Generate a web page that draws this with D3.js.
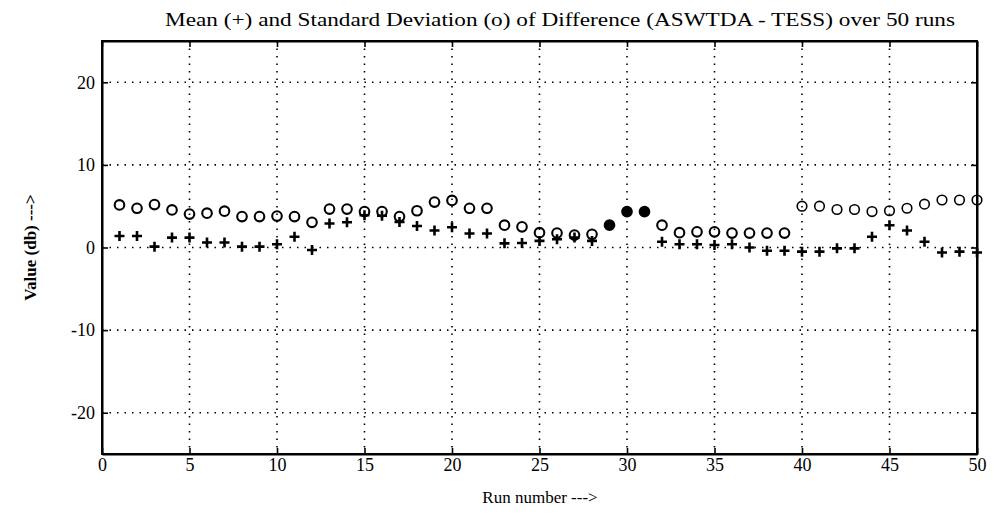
<!DOCTYPE html>
<html><head><meta charset="utf-8">
<script src="https://cdn.jsdelivr.net/npm/d3@7"></script>
<style>body{margin:0;background:#fff;} text{font-family:"Liberation Serif","Times New Roman",serif;fill:#000;}</style>
</head><body>
<svg id="chart" width="993" height="531"></svg>
<script>
const runs = d3.range(1, 51);
const meanValues = [1.4,1.4,0.1,1.2,1.2,0.6,0.6,0.1,0.1,0.4,1.3,-0.3,2.9,3.05,3.9,3.85,3.1,2.6,2.05,2.45,1.7,1.7,0.5,0.55,0.8,1.0,1.2,0.8,2.7,4.35,4.35,0.7,0.4,0.4,0.3,0.4,0.0,-0.4,-0.4,-0.5,-0.5,-0.1,-0.1,1.3,2.7,2.05,0.7,-0.6,-0.5,-0.6];
const stdValues = [5.15,4.75,5.2,4.55,4.05,4.15,4.4,3.75,3.75,3.8,3.75,3.05,4.65,4.65,4.35,4.35,3.75,4.45,5.5,5.7,4.75,4.75,2.7,2.5,1.8,1.75,1.5,1.6,2.7,4.35,4.35,2.7,1.8,1.9,1.9,1.75,1.75,1.75,1.75,5.0,5.0,4.6,4.6,4.35,4.45,4.75,5.25,5.75,5.75,5.75];
const xTicks = [0,5,10,15,20,25,30,35,40,45,50];
const yTicks = [-20,-10,0,10,20];
const title = "Mean (+) and Standard Deviation (o) of Difference (ASWTDA - TESS) over 50 runs";
const xLabel = "Run number --->";
const yLabel = "Value (db) --->";

const svg = d3.select("#chart");
const L = 102, R = 977, T = 41, B = 454;
const x = d3.scaleLinear().domain([0, 50]).range([L, R]);
const y = d3.scaleLinear().domain([-25, 25]).range([B, T]);
const fmt = d => String(d);

// grid
const g = svg.append("g");
g.selectAll(".vg").data(xTicks.filter(d => d > 0 && d < 50)).enter().append("line")
  .attr("x1", d => x(d)).attr("x2", d => x(d)).attr("y1", T).attr("y2", B)
  .attr("stroke", "#000").attr("stroke-width", 1.6).attr("stroke-dasharray", "1.5,6");
g.selectAll(".hg").data(yTicks).enter().append("line")
  .attr("x1", L).attr("x2", R).attr("y1", d => y(d)).attr("y2", d => y(d))
  .attr("stroke", "#000").attr("stroke-width", 1.6).attr("stroke-dasharray", "1.5,6");

// axes
const xAxisB = d3.axisBottom(x).tickValues(xTicks).tickSizeInner(-6).tickSizeOuter(0).tickPadding(4).tickFormat(fmt);
const xAxisT = d3.axisTop(x).tickValues(xTicks).tickSizeInner(-6).tickSizeOuter(0).tickFormat("");
const yAxisL = d3.axisLeft(y).tickValues(yTicks).tickSizeInner(-6).tickSizeOuter(0).tickPadding(7).tickFormat(fmt);
const yAxisR = d3.axisRight(y).tickValues(yTicks).tickSizeInner(-6).tickSizeOuter(0).tickFormat("");

function styleAx(sel){
  sel.selectAll("path").attr("stroke", "#000").attr("stroke-width", 2);
  sel.selectAll("line").attr("stroke", "#000").attr("stroke-width", 1.6);
  sel.selectAll("text").attr("font-size", 18).attr("font-family", "Liberation Serif, serif").attr("fill", "#000");
}
svg.append("g").attr("transform", `translate(0,${B})`).call(xAxisB).call(styleAx);
svg.append("g").attr("transform", `translate(0,${T})`).call(xAxisT).call(styleAx);
svg.append("g").attr("transform", `translate(${L},0)`).call(yAxisL).call(styleAx);
svg.append("g").attr("transform", `translate(${R},0)`).call(yAxisR).call(styleAx);
svg.append("rect").attr("x", L).attr("y", T).attr("width", R - L).attr("height", B - T)
  .attr("fill", "none").attr("stroke", "#000").attr("stroke-width", 2);

// std circles (solid where mean marker coincides)
const data = runs.map((r, i) => ({run: r, mean: meanValues[i], sd: stdValues[i]}));
svg.append("g").selectAll("circle").data(data).enter().append("circle")
  .attr("cx", d => x(d.run)).attr("cy", d => y(d.sd)).attr("r", 4.8)
  .attr("fill", d => Math.abs(d.mean - d.sd) < 0.3 ? "#000" : "none")
  .attr("stroke", "#000").attr("stroke-width", d => d.run >= 40 ? 1.6 : 2.1);

// mean plus markers
svg.append("g").selectAll("path").data(data.filter(d => Math.abs(d.mean - d.sd) >= 0.3)).enter().append("path")
  .attr("d", d => { const cx = x(d.run), cy = y(d.mean), s = 5; return `M${cx - s},${cy}H${cx + s}M${cx},${cy - s}V${cy + s}`; })
  .attr("stroke", "#000").attr("stroke-width", 2.6).attr("fill", "none");

// labels
svg.append("text").attr("x", 560).attr("y", 26).attr("text-anchor", "middle")
  .attr("font-size", 18).attr("textLength", 790).attr("lengthAdjust", "spacingAndGlyphs").text(title);
svg.append("text").attr("x", 540).attr("y", 503).attr("text-anchor", "middle")
  .attr("font-size", 17).text(xLabel);
svg.append("text").attr("transform", `translate(36,${y(0)}) rotate(-90)`).attr("text-anchor", "middle")
  .attr("font-size", 17).attr("font-weight", "bold").text(yLabel);
</script>
</body></html>
